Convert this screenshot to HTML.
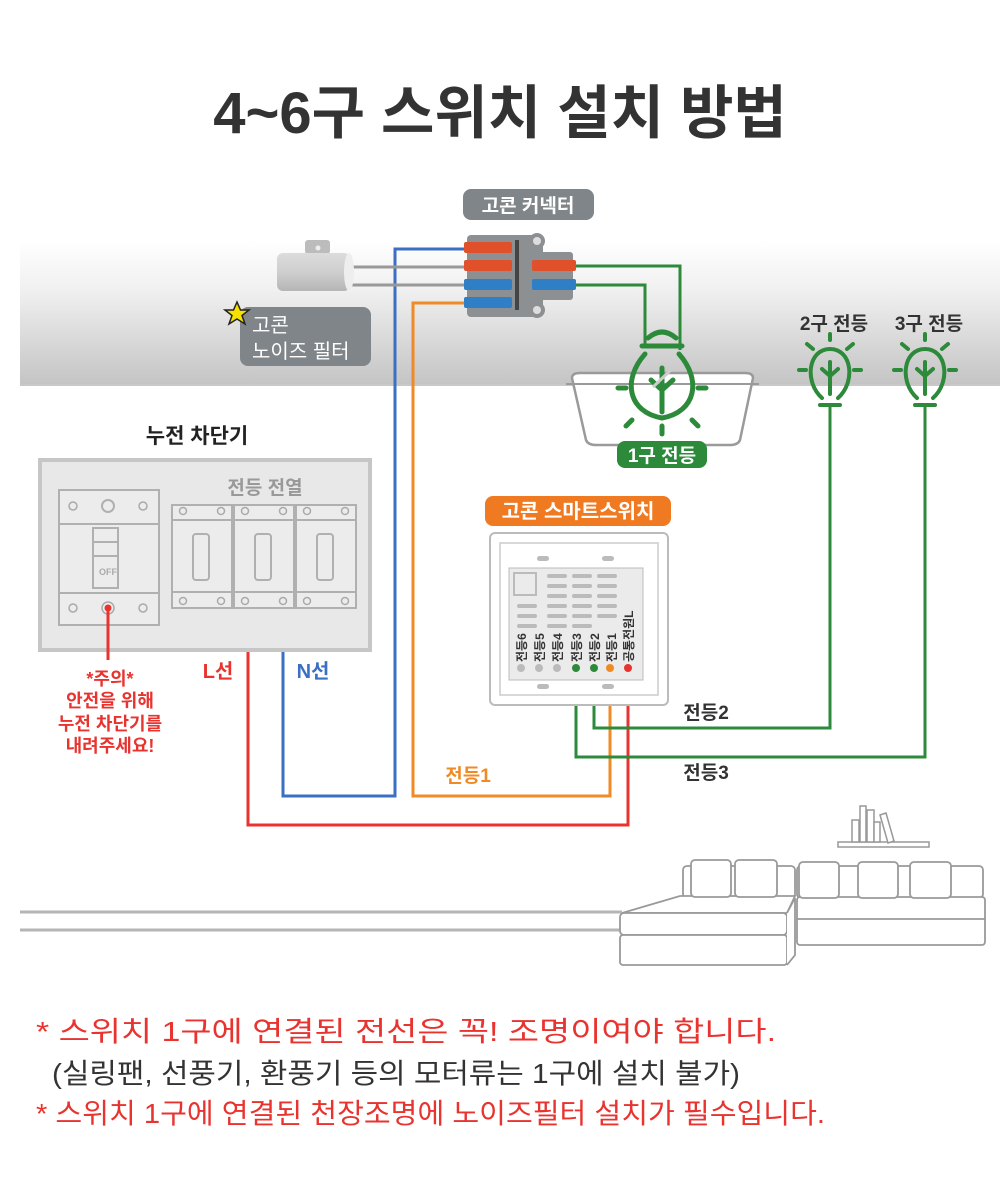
<!DOCTYPE html>
<html><head><meta charset="utf-8"><style>
body{margin:0;background:#fff}
svg{display:block}
text{font-family:"Liberation Sans","Noto Sans CJK KR",sans-serif}
</style></head><body>
<svg width="1000" height="1200" viewBox="0 0 1000 1200" xmlns="http://www.w3.org/2000/svg">
<defs>
<linearGradient id="ceil" x1="0" y1="0" x2="0" y2="1">
<stop offset="0" stop-color="#ffffff"/><stop offset="0.35" stop-color="#f0f0f0"/><stop offset="1" stop-color="#c4c4c4"/>
</linearGradient>
<linearGradient id="cyl" x1="0" y1="0" x2="0" y2="1">
<stop offset="0" stop-color="#dcdcdc"/><stop offset="0.5" stop-color="#cfcfcf"/><stop offset="1" stop-color="#b5b5b5"/>
</linearGradient>
</defs>
<rect width="1000" height="1200" fill="#fff"/>
<text x="500" y="133" text-anchor="middle" font-size="58" font-weight="bold" fill="#333">4~6구 스위치 설치 방법</text>

<rect x="20" y="240" width="980" height="145" fill="url(#ceil)"/>
<line x1="20" y1="385" x2="1000" y2="385" stroke="#c8c8c8" stroke-width="2"/>

<rect x="463" y="189" width="131" height="31" rx="8" fill="#7f8588"/>
<text x="528" y="212" text-anchor="middle" font-size="19" fill="#fff" font-weight="bold">고콘 커넥터</text>

<g fill="none" stroke-width="3">
<polyline points="467,249 395,249 395,796 283,796 283,610" stroke="#3a6fc4"/>
<polyline points="467,303 413,303 413,796 610,796 610,668" stroke="#f08a24"/>
<polyline points="248,610 248,825 628,825 628,668" stroke="#e8332f"/>
<polyline points="573,266 680,266 680,350" stroke="#2c8a3a"/>
<polyline points="573,285 645,285 645,345" stroke="#2c8a3a"/>
<polyline points="594,668 594,728 830,728 830,405" stroke="#2c8a3a"/>
<polyline points="576,668 576,757 925,757 925,405" stroke="#2c8a3a"/>
<line x1="350" y1="267" x2="467" y2="267" stroke="#999"/>
<line x1="350" y1="285" x2="467" y2="285" stroke="#999"/>
</g>

<rect x="305" y="240" width="25" height="14" rx="3" fill="#bcbcbc"/>
<circle cx="318" cy="248" r="2.5" fill="#eee"/>
<rect x="277" y="253" width="73" height="38" rx="6" fill="url(#cyl)"/>
<ellipse cx="349" cy="272" rx="5" ry="19" fill="#eee"/>

<rect x="467" y="235" width="76" height="82" rx="4" fill="#8d9093"/>
<rect x="530" y="252" width="43" height="48" rx="3" fill="#8d9093"/>
<circle cx="537" cy="241" r="8" fill="#8d9093"/><circle cx="537" cy="241" r="4" fill="#ddd"/>
<circle cx="537" cy="310" r="8" fill="#8d9093"/><circle cx="537" cy="310" r="4" fill="#ddd"/>
<rect x="515" y="240" width="4" height="70" fill="#444"/>
<rect x="464" y="242" width="48" height="11" rx="2" fill="#e0502a"/>
<rect x="464" y="260" width="48" height="11" rx="2" fill="#e0502a"/>
<rect x="532" y="260" width="44" height="11" rx="2" fill="#e0502a"/>
<rect x="464" y="279" width="48" height="11" rx="2" fill="#2f7fc6"/>
<rect x="532" y="279" width="44" height="11" rx="2" fill="#2f7fc6"/>
<rect x="464" y="297" width="48" height="11" rx="2" fill="#2f7fc6"/>

<rect x="240" y="307" width="131" height="59" rx="8" fill="#7f8588"/>
<text x="252" y="332" font-size="20" fill="#fff">고콘</text>
<text x="252" y="358" font-size="20" fill="#fff">노이즈 필터</text>
<polygon points="237,302 240.5,310 249,310 242,315.5 245,324 237,319 229,324 232,315.5 225,310 233.5,310" fill="#f5e000" stroke="#222" stroke-width="1.5"/>

<path d="M572,378 Q572,373 580,373 L745,373 Q753,373 753,378 L740,440 Q738,445 730,445 L596,445 Q588,445 586,440 Z" fill="#fff" stroke="#9a9a9a" stroke-width="2.5"/>
<path d="M566,384 L759,384" stroke="#9a9a9a" stroke-width="2"/>

<g stroke="#2c8a3a" stroke-width="5" fill="none" stroke-linecap="round">
<path d="M648,338 q14,-12 28,0"/>
<path d="M642,346 L682,346"/>
<path d="M645,354 C622,380 628,412 662,418 C696,412 702,380 679,354"/>
<path d="M662,368 v44 M662,390 l-11,-10 M662,390 l11,-10"/>
<path d="M618,388 h8 M698,388 h8 M632,420 l-6,6 M692,420 l6,6 M662,426 v8"/>
</g>
<line x1="653" y1="387" x2="675" y2="366" stroke="#ccc" stroke-width="3"/>
<rect x="617" y="441" width="90" height="27" rx="8" fill="#2c8a3a"/>
<text x="662" y="462" text-anchor="middle" font-size="19" font-weight="bold" fill="#fff">1구 전등</text>

<text x="834" y="330" text-anchor="middle" font-size="19" font-weight="bold" fill="#333">2구 전등</text>
<text x="929" y="330" text-anchor="middle" font-size="19" font-weight="bold" fill="#333">3구 전등</text>
<g stroke="#2c8a3a" stroke-width="4" fill="none" stroke-linecap="round">
<g transform="translate(830,0)">
<path d="M-10,405 h20 M-8,398 C-26,382 -22,349 0,349 C22,349 26,382 8,398"/>
<path d="M0,394 v-32 M0,376 l-8,-7 M0,376 l8,-7"/>
<path d="M-31,370 h7 M24,370 h7 M-23,344 l6,5 M23,344 l-6,5 M0,334 v6"/>
</g>
<g transform="translate(925,0)">
<path d="M-10,405 h20 M-8,398 C-26,382 -22,349 0,349 C22,349 26,382 8,398"/>
<path d="M0,394 v-32 M0,376 l-8,-7 M0,376 l8,-7"/>
<path d="M-31,370 h7 M24,370 h7 M-23,344 l6,5 M23,344 l-6,5 M0,334 v6"/>
</g>
</g>

<text x="197" y="443" text-anchor="middle" font-size="21" font-weight="bold" fill="#222">누전 차단기</text>
<rect x="40" y="460" width="330" height="190" fill="#e8e8e8" stroke="#c6c6c6" stroke-width="4"/>
<text x="265" y="494" text-anchor="middle" font-size="19" font-weight="bold" fill="#999">전등 전열</text>
<g fill="#ececec" stroke="#b0b0b0" stroke-width="2">
<rect x="59" y="490" width="100" height="135"/>
<line x1="59" y1="524" x2="159" y2="524"/><line x1="59" y1="593" x2="159" y2="593"/>
<rect x="93" y="528" width="25" height="60"/><line x1="93" y1="542" x2="118" y2="542"/><line x1="93" y1="556" x2="118" y2="556"/>
<circle cx="108" cy="506" r="6"/>
<rect x="172" y="505" width="60" height="103"/><rect x="234" y="505" width="60" height="103"/><rect x="296" y="505" width="60" height="103"/>
<line x1="172" y1="520" x2="232" y2="520"/><line x1="172" y1="592" x2="232" y2="592"/>
<line x1="234" y1="520" x2="294" y2="520"/><line x1="234" y1="592" x2="294" y2="592"/>
<line x1="296" y1="520" x2="356" y2="520"/><line x1="296" y1="592" x2="356" y2="592"/>
<rect x="193" y="534" width="16" height="46" rx="3"/><rect x="255" y="534" width="16" height="46" rx="3"/><rect x="317" y="534" width="16" height="46" rx="3"/>
</g>
<text x="108" y="575" text-anchor="middle" font-size="9" font-weight="bold" fill="#aaa">OFF</text>
<g fill="none" stroke="#aaa" stroke-width="1.5">
<circle cx="73" cy="506" r="4"/><circle cx="143" cy="506" r="4"/><circle cx="73" cy="608" r="4"/><circle cx="143" cy="608" r="4"/>
<circle cx="183" cy="511" r="3.5"/><circle cx="221" cy="511" r="3.5"/><circle cx="245" cy="511" r="3.5"/><circle cx="283" cy="511" r="3.5"/><circle cx="307" cy="511" r="3.5"/><circle cx="345" cy="511" r="3.5"/>
<circle cx="183" cy="601" r="3.5"/><circle cx="221" cy="601" r="3.5"/><circle cx="245" cy="601" r="3.5"/><circle cx="283" cy="601" r="3.5"/><circle cx="307" cy="601" r="3.5"/><circle cx="345" cy="601" r="3.5"/>
</g>
<circle cx="108" cy="608" r="6" fill="#eee" stroke="#aaa" stroke-width="1.5"/>
<circle cx="108" cy="608" r="3.5" fill="#e8332f"/>
<line x1="108" y1="610" x2="108" y2="660" stroke="#e8332f" stroke-width="3"/>
<g font-size="18" font-weight="bold" fill="#e8332f" text-anchor="middle">
<text x="110" y="685">*주의*</text>
<text x="110" y="707">안전을 위해</text>
<text x="110" y="730">누전 차단기를</text>
<text x="110" y="752">내려주세요!</text>
<text x="218" y="678" font-size="20">L선</text>
</g>
<text x="313" y="678" text-anchor="middle" font-size="20" font-weight="bold" fill="#3a6fc4">N선</text>

<rect x="485" y="496" width="186" height="30" rx="8" fill="#f07a22"/>
<text x="578" y="518" text-anchor="middle" font-size="20" font-weight="bold" fill="#fff">고콘 스마트스위치</text>
<rect x="490" y="533" width="178" height="172" rx="5" fill="#fff" stroke="#bbb" stroke-width="2"/>
<rect x="500" y="543" width="158" height="152" fill="none" stroke="#ccc" stroke-width="1.5"/>
<rect x="509" y="568" width="134" height="112" fill="#ebebeb" stroke="#bbb" stroke-width="1"/>
<g fill="#bbb">
<rect x="537" y="556" width="12" height="5" rx="2.5"/><rect x="602" y="556" width="12" height="5" rx="2.5"/>
<rect x="537" y="684" width="12" height="5" rx="2.5"/><rect x="602" y="684" width="12" height="5" rx="2.5"/>
<rect x="547" y="574" width="20" height="4" rx="2"/><rect x="572" y="574" width="20" height="4" rx="2"/><rect x="597" y="574" width="20" height="4" rx="2"/>
<rect x="547" y="584" width="20" height="4" rx="2"/><rect x="572" y="584" width="20" height="4" rx="2"/><rect x="597" y="584" width="20" height="4" rx="2"/>
<rect x="547" y="594" width="20" height="4" rx="2"/><rect x="572" y="594" width="20" height="4" rx="2"/><rect x="597" y="594" width="20" height="4" rx="2"/>
<rect x="517" y="604" width="20" height="4" rx="2"/><rect x="547" y="604" width="20" height="4" rx="2"/><rect x="572" y="604" width="20" height="4" rx="2"/><rect x="597" y="604" width="20" height="4" rx="2"/>
<rect x="517" y="614" width="20" height="4" rx="2"/><rect x="547" y="614" width="20" height="4" rx="2"/><rect x="572" y="614" width="20" height="4" rx="2"/><rect x="597" y="614" width="20" height="4" rx="2"/>
<rect x="517" y="624" width="20" height="4" rx="2"/><rect x="547" y="624" width="20" height="4" rx="2"/><rect x="572" y="624" width="20" height="4" rx="2"/>
</g>
<rect x="514" y="573" width="22" height="22" fill="none" stroke="#bbb" stroke-width="2"/>
<g font-size="12" font-weight="bold" fill="#333">
<text transform="translate(526,662) rotate(-90)">전등6</text>
<text transform="translate(544,662) rotate(-90)">전등5</text>
<text transform="translate(562,662) rotate(-90)">전등4</text>
<text transform="translate(581,662) rotate(-90)">전등3</text>
<text transform="translate(599,662) rotate(-90)">전등2</text>
<text transform="translate(616,662) rotate(-90)">전등1</text>
<text transform="translate(633,662) rotate(-90)">공통전원L</text>
</g>
<g fill="#bbb"><circle cx="521" cy="668" r="4"/><circle cx="539" cy="668" r="4"/><circle cx="557" cy="668" r="4"/></g>
<circle cx="576" cy="668" r="4" fill="#2c8a3a"/><circle cx="594" cy="668" r="4" fill="#2c8a3a"/>
<circle cx="610" cy="668" r="4" fill="#f08a24"/><circle cx="628" cy="668" r="4" fill="#e8332f"/>

<text x="706" y="719" text-anchor="middle" font-size="19" font-weight="bold" fill="#333">전등2</text>
<text x="706" y="779" text-anchor="middle" font-size="19" font-weight="bold" fill="#333">전등3</text>
<text x="468" y="782" text-anchor="middle" font-size="19" font-weight="bold" fill="#f08a24">전등1</text>

<line x1="20" y1="912" x2="622" y2="912" stroke="#b5b5b5" stroke-width="3"/>
<line x1="20" y1="930" x2="622" y2="930" stroke="#b5b5b5" stroke-width="3"/>
<g fill="#fff" stroke="#999" stroke-width="1.5">
<rect x="838" y="842" width="91" height="5"/>
<rect x="852" y="820" width="7" height="22"/><rect x="860" y="806" width="6" height="36"/><rect x="867" y="810" width="7" height="32"/><rect x="874" y="822" width="6" height="20"/>
<path d="M880,815 l6,-2 l8,28 l-6,2 z"/>
</g>
<g fill="#fff" stroke="#999" stroke-width="1.8">
<rect x="797" y="866" width="186" height="32" rx="4"/>
<rect x="683" y="866" width="112" height="32" rx="4"/>
<rect x="797" y="897" width="188" height="48" rx="3"/>
<line x1="797" y1="919" x2="985" y2="919"/>
<path d="M622,913 L680,896 L795,896 L787,913 Z"/>
<rect x="620" y="913" width="167" height="22" rx="4"/>
<rect x="620" y="935" width="167" height="30" rx="3"/>
<path d="M787,913 L795,898 L795,955 L787,965"/>
<rect x="691" y="860" width="40" height="37" rx="4"/><rect x="735" y="860" width="42" height="37" rx="4"/>
<rect x="799" y="862" width="40" height="36" rx="4"/><rect x="858" y="862" width="40" height="36" rx="4"/><rect x="910" y="862" width="41" height="36" rx="4"/>
</g>

<g font-size="28">
<text x="36" y="1041" fill="#e8332f" textLength="740" lengthAdjust="spacingAndGlyphs">* 스위치 1구에 연결된 전선은 꼭! 조명이여야 합니다.</text>
<text x="52" y="1083" fill="#333" textLength="688" lengthAdjust="spacingAndGlyphs">(실링팬, 선풍기, 환풍기 등의 모터류는 1구에 설치 불가)</text>
<text x="36" y="1123" fill="#e8332f" textLength="789" lengthAdjust="spacingAndGlyphs">* 스위치 1구에 연결된 천장조명에 노이즈필터 설치가 필수입니다.</text>
</g>
</svg>
</body></html>
